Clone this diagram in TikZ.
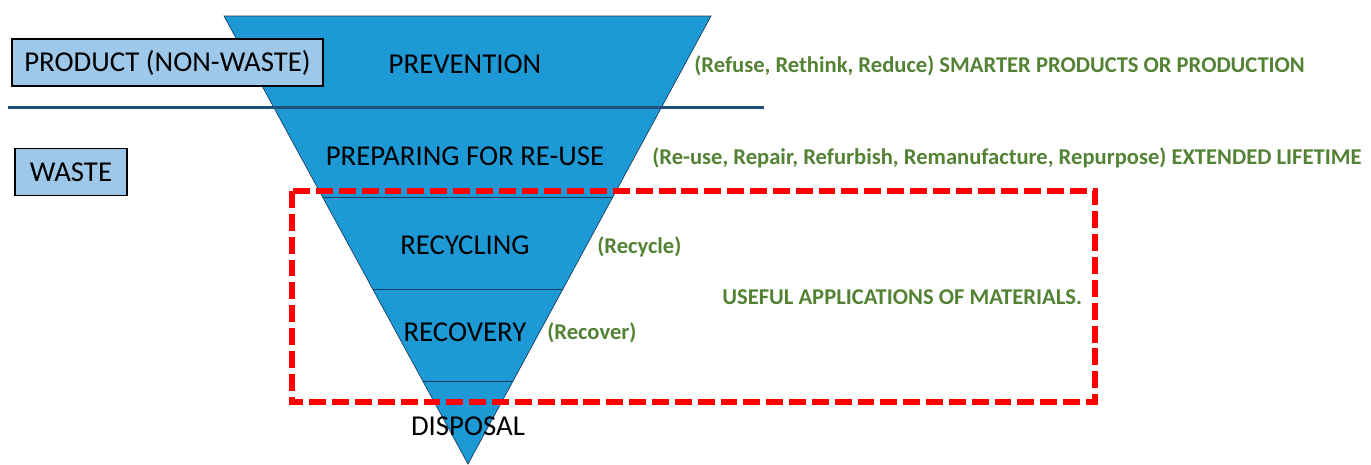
\documentclass[tikz,border=0pt]{standalone}
\usepackage{fontspec}
\setmainfont{Carlito}
\usepackage{tikz}
\usetikzlibrary{positioning,calc}
\definecolor{wfblue}{RGB}{29,154,214}
\definecolor{wflightblue}{RGB}{157,200,234}
\definecolor{wfnavy}{RGB}{31,78,121}
\definecolor{wfgreen}{RGB}{84,130,53}
\definecolor{wfred}{RGB}{255,0,0}
\tikzstyle{level} = [inner sep=0pt, text=black, font=\fontsize{16.4}{19}\selectfont]
\tikzstyle{note} = [inner sep=0pt, anchor=west, text=wfgreen, font=\bfseries\fontsize{12.85}{15}\selectfont]
\tikzstyle{tag} = [rectangle, draw=black, fill=wflightblue, line width=1pt, minimum height=0.94cm, inner sep=0pt, font=\fontsize{16.4}{19}\selectfont]
\tikzstyle{band} = [draw=wfnavy!80!black, thin]

\begin{document}
\begin{tikzpicture}[x=0.02cm, y=-0.02cm]
\useasboundingbox (0,0) rectangle (1371,464);
% Funnel
\coordinate (tl) at (224,16);
\coordinate (tr) at (711,16);
\coordinate (apex) at (468,464);
\fill[wfblue] (tl) -- (tr) -- (apex) -- cycle;
\begin{scope}
\clip (tl) -- (tr) -- (apex) -- cycle;
\foreach \y in {197,289,381}
  \draw[band] (200,\y) -- (740,\y);
\end{scope}
\draw[band] (tl) -- (tr) -- (apex) -- cycle;

% Dividing line
\draw[wfnavy, line width=1.7pt] (8,107) -- (764,107);

% Levels
\node[level] (prevention) at (465,64) {PREVENTION};
\node[level] (reuse) at (465,156) {PREPARING FOR RE-USE};
\node[level] (recycling) at (465,245) {RECYCLING};
\node[level] (recovery) at (465,332) {RECOVERY};
\node[level] (disposal) at (468,426) {DISPOSAL};

% Two boxes
\node[tag, minimum width=6.22cm] (product) at (167.5,62.5) {PRODUCT (NON-WASTE)};
\node[tag, minimum width=2.24cm] (waste) at (71,172) {WASTE};

% Green notes
\node[note] (smarter) at (694,66) {(Refuse, Rethink, Reduce) SMARTER PRODUCTS OR PRODUCTION};
\node[note] (lifetime) at (652,158) {(Re-use, Repair, Refurbish, Remanufacture, Repurpose) EXTENDED LIFETIME};
\node[note] (recycle) at (597,247) {(Recycle)};
\node[note] (recover) at (547,333) {(Recover)};
\node[note] (useful) at (722,297) {USEFUL APPLICATIONS OF MATERIALS.};

% Red frame
\draw[wfred, line width=3.4pt, dash pattern=on 9.6pt off 3.4pt] (292,191) rectangle (1095,402);
\end{tikzpicture}
\end{document}
